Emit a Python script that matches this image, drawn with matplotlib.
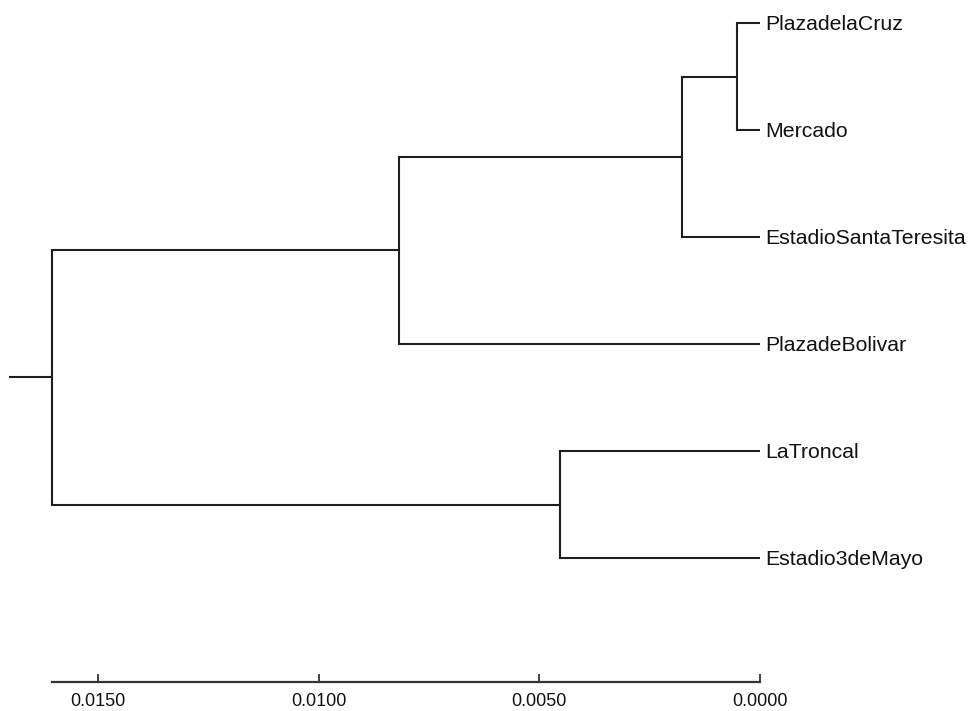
import matplotlib
matplotlib.use("Agg")
import matplotlib.pyplot as plt

# Data
labels = ["PlazadelaCruz", "Mercado", "EstadioSantaTeresita",
          "PlazadeBolivar", "LaTroncal", "Estadio3deMayo"]
# linkage rows: child a, child b, height  (nodes >= 6 are merged clusters)
link_a = [0, 6, 7, 4, 8]
link_b = [1, 2, 3, 5, 9]
link_h = [0.00052, 0.00177, 0.00818, 0.00453, 0.01604]
root_stub = 0.01701
tick_values = [0.0150, 0.0100, 0.0050, 0.0000]
tick_labels = ["0.0150", "0.0100", "0.0050", "0.0000"]

plt.rcParams['font.family'] = ['Liberation Sans', 'DejaVu Sans']
fig = plt.figure(figsize=(9.74, 7.11), dpi=100)
ax = fig.add_axes([0, 0, 1, 1])
ax.set_facecolor('white')

lc = '#1e1e1e'
lw = 1.5
n = len(labels)
ypos = {i: float(i) for i in range(n)}
hpos = {i: 0.0 for i in range(n)}
for k, (a, b, h) in enumerate(zip(link_a, link_b, link_h)):
    node = n + k
    ya, yb = ypos[a], ypos[b]
    ax.plot([hpos[a], h, h, hpos[b]], [ya, ya, yb, yb], color=lc, lw=lw,
            solid_joinstyle='miter', solid_capstyle='butt')
    ypos[node] = (ya + yb) / 2
    hpos[node] = h
root = n + len(link_h) - 1
ax.plot([hpos[root], root_stub], [ypos[root], ypos[root]], color=lc, lw=lw,
        solid_capstyle='butt')

for i, lab in enumerate(labels):
    ax.annotate(lab, xy=(0, i), xytext=(4, -1), textcoords='offset points',
                ha='left', va='center', fontsize=15.3, color='#111111')

# pixel mapping: x_px = 760 - v*44140 ; y_px = 23 + i*107
ax.set_xlim(760 / 44140, (760 - 974) / 44140)
ax.set_ylim((711 - 23) / 107, -23 / 107)

for s in ['top', 'right', 'left']:
    ax.spines[s].set_visible(False)
ax.spines['bottom'].set_position(('data', (682 - 23) / 107))
ax.spines['bottom'].set_bounds(0.0, (760 - 52) / 44140)
ax.spines['bottom'].set_linewidth(1.6)
ax.spines['bottom'].set_color('#333333')
ax.set_yticks([])
ax.set_xticks(tick_values)
ax.set_xticklabels(tick_labels)
ax.tick_params(axis='x', direction='in', length=5.5, width=1.2, color='#222222',
               pad=8, labelsize=13, labelcolor='#111111')

fig.savefig("out.png", dpi=100, facecolor='white')
